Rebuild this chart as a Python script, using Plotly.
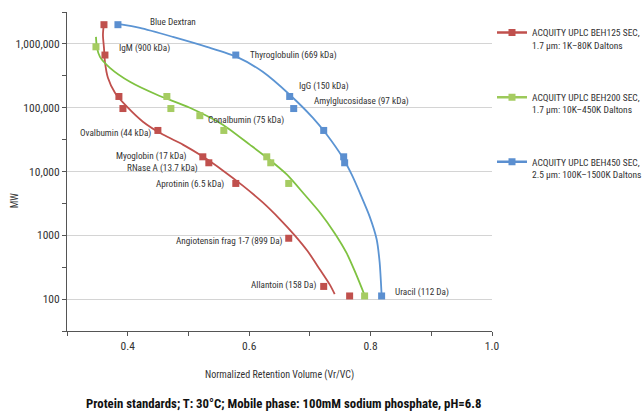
import plotly.graph_objects as go

# ---------------- data ----------------
series_names = [
    "ACQUITY UPLC BEH125 SEC,<br>1.7 µm: 1K–80K Daltons",
    "ACQUITY UPLC BEH200 SEC,<br>1.7 µm: 10K–450K Daltons",
    "ACQUITY UPLC BEH450 SEC,<br>2.5 µm: 100K–1500K Daltons",
]

# measured standards (markers): normalized retention volume vs MW
beh125_x = [0.3609, 0.3625, 0.3855, 0.3921, 0.4497, 0.5237, 0.5336, 0.5780, 0.6652, 0.7228, 0.7655]
beh125_y = [2000000, 669000, 150000, 97000, 44000, 17000, 13700, 6500, 899, 158, 112]
beh200_x = [0.3477, 0.4645, 0.4711, 0.5188, 0.5583, 0.6290, 0.6356, 0.6652, 0.7902]
beh200_y = [900000, 150000, 97000, 75000, 44000, 17000, 13700, 6500, 112]
beh450_x = [0.3839, 0.5780, 0.6668, 0.6734, 0.7228, 0.7557, 0.7573, 0.8182]
beh450_y = [2000000, 669000, 150000, 97000, 44000, 17000, 13700, 112]

# calibration curves
fit125_x = [0.3609, 0.3592, 0.3609, 0.3625, 0.3674, 0.3790, 0.3987, 0.4250, 0.4579, 0.4908,
            0.5237, 0.5566, 0.5895, 0.6224, 0.6504, 0.6751, 0.6965, 0.7162, 0.7326, 0.7409]
fit125_y = [2130000, 1382000, 866000, 523000, 294000, 171500, 103700, 60400, 37900, 26400,
            17150, 10400, 6000, 3280, 1800, 1000, 562, 294, 170, 120]
fit200_x = [0.3477, 0.3494, 0.3543, 0.3707, 0.4036, 0.4481, 0.5023, 0.5566, 0.6010, 0.6290,
            0.6619, 0.6915, 0.7178, 0.7409, 0.7606, 0.7754, 0.7902]
fit200_y = [1287000, 866000, 626000, 422000, 255000, 159700, 100000, 54200, 26400, 16550,
            8980, 4320, 2200, 1080, 525, 255, 115]
fit450_x = [0.3839, 0.4201, 0.4744, 0.5303, 0.5797, 0.6224, 0.6668, 0.7047, 0.7277, 0.7540,
            0.7688, 0.7820, 0.7984, 0.8100, 0.8149, 0.8182]
fit450_y = [2054000, 1778000, 1287000, 898000, 626000, 365000, 159700, 69800, 37900, 16550,
            8980, 4700, 1980, 866, 379, 115]

# point labels: text, x, log10(y)
label_text = ["Blue Dextran", "IgM (900 kDa)", "Thyroglobulin (669 kDa)", "IgG (150 kDa)",
              "Amylglucosidase (97 kDa)", "Ovalbumin (44 kDa)", "Conalbumin (75 kDa)",
              "Myoglobin (17 kDa)", "RNase A (13.7 kDa)", "Aprotinin (6.5 kDa)",
              "Angiotensin frag 1-7 (899 Da)", "Allantoin (158 Da)", "Uracil (112 Da)"]
label_x = [0.4332, 0.3823, 0.5978, 0.6784, 0.7030, 0.3181, 0.5287, 0.3773, 0.3954, 0.4431,
           0.4760, 0.5994, 0.8363]
label_logy = [6.359, 5.9375, 5.828, 5.34, 5.11, 4.61, 4.81, 4.25, 4.06, 3.81, 2.906, 2.22, 2.11]

x_tickvals = [0.3, 0.4, 0.5, 0.6, 0.7, 0.8, 0.9, 1.0]
x_ticktext = ["", "0.4", "", "0.6", "", "0.8", "", "1.0"]
y_tickvals = [100, 1000, 10000, 100000, 1000000, 10 ** 6.5]
y_ticktext = ["100", "1000", "10,000", "100,000", "1,000,000", ""]
y_minor = [10 ** 1.5, 10 ** 2.5, 10 ** 3.5, 10 ** 4.5, 10 ** 5.5]

x_title = "Normalized Retention Volume (Vr/VC)"
y_title = "MW"
caption = "Protein standards; T: 30°C; Mobile phase: 100mM sodium phosphate, pH=6.8"

# ---------------- styles ----------------
marker_colors = ["#c0504d", "#a6cc62", "#5b8fd0"]
line_colors = ["#c0504d", "#7fc241", "#5b94d3"]
legend_line_colors = ["#c0504d", "#9cc95a", "#5b8fd0"]
FONT = "Liberation Sans Narrow, Roboto Condensed, Arial Narrow, sans-serif"
TXT = "#333333"
AX = "#555555"

fig = go.Figure()

pts = [(beh125_x, beh125_y), (beh200_x, beh200_y), (beh450_x, beh450_y)]
fits = [(fit125_x, fit125_y), (fit200_x, fit200_y), (fit450_x, fit450_y)]

for i in range(3):
    fx, fy = fits[i]
    fig.add_trace(go.Scatter(x=fx, y=fy, mode="lines", showlegend=False,
                             line=dict(color=line_colors[i], width=1.8, shape="spline", smoothing=0.7),
                             hoverinfo="skip"))
for i in range(3):
    px_, py_ = pts[i]
    fig.add_trace(go.Scatter(x=px_, y=py_, mode="markers", showlegend=False,
                             marker=dict(symbol="square", size=7, color=marker_colors[i])))
# legend entries
for i in range(3):
    fig.add_trace(go.Scatter(x=[None], y=[None], mode="lines+markers", name=series_names[i],
                             legendgroup=f"g{i}",
                             line=dict(color=legend_line_colors[i], width=2.5),
                             marker=dict(symbol="square", size=7, color=marker_colors[i])))

for t, x, y in zip(label_text, label_x, label_logy):
    fig.add_annotation(x=x, y=y, xref="x", yref="y", text=t, showarrow=False,
                       xanchor="left", yanchor="middle",
                       font=dict(family=FONT, size=9.2, color=TXT))

fig.add_annotation(x=0.5, y=-0.138, xref="paper", yref="paper", text=x_title,
                   showarrow=False, xanchor="center", yanchor="middle",
                   font=dict(family=FONT, size=10, color=TXT))
fig.add_annotation(x=-0.1246, y=0.41, xref="paper", yref="paper", text=y_title, textangle=-90,
                   showarrow=False, xanchor="center", yanchor="middle",
                   font=dict(family=FONT, size=10, color=TXT))
fig.add_annotation(x=0.509, y=-0.226, xref="paper", yref="paper", text="<b>" + caption + "</b>",
                   showarrow=False, xanchor="center", yanchor="middle",
                   font=dict(family=FONT, size=12.8, color="#111111"))

fig.update_layout(
    width=642, height=412,
    margin=dict(l=67, r=150, t=12, b=81),
    paper_bgcolor="white", plot_bgcolor="white",
    font=dict(family=FONT, color=TXT),
    showlegend=True,
    legend=dict(xref="container", yref="container", x=492 / 642, y=0.952,
                xanchor="left", yanchor="top", valign="top",
                font=dict(family=FONT, size=9.5, color=TXT),
                traceorder="grouped", tracegroupgap=37, itemwidth=30,
                bgcolor="rgba(0,0,0,0)"),
    xaxis=dict(range=[0.3, 1.0], tickmode="array", tickvals=x_tickvals, ticktext=x_ticktext,
               showgrid=False, zeroline=False, showline=True, linecolor=AX, linewidth=1,
               ticks="outside", ticklen=4, tickcolor=AX, automargin=False,
               tickfont=dict(family=FONT, size=11.5, color=TXT)),
    yaxis=dict(type="log", range=[1.5, 6.5], tickmode="array", tickvals=y_tickvals, ticktext=y_ticktext,
               showgrid=True, gridcolor="#d4d4d4", gridwidth=1, zeroline=False,
               showline=True, linecolor=AX, linewidth=1,
               ticks="outside", ticklen=4, tickcolor=AX, automargin=False,
               minor=dict(tickmode="array", tickvals=y_minor, ticks="outside", ticklen=4,
                          tickcolor=AX, showgrid=False),
               tickfont=dict(family=FONT, size=11.5, color=TXT)),
)

fig.write_html("out.html")
